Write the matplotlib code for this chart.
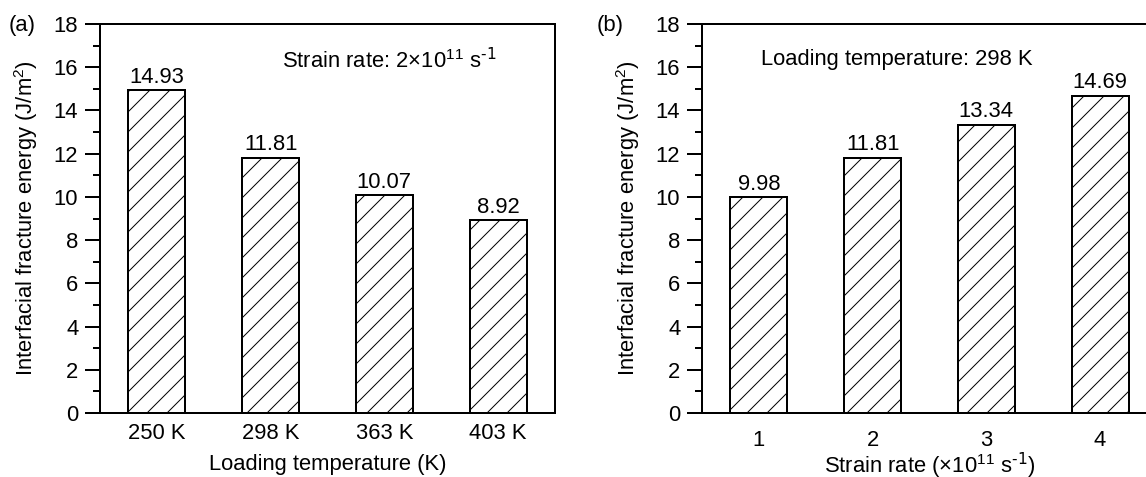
import matplotlib
matplotlib.use('Agg')
import matplotlib.pyplot as plt
from matplotlib.ticker import MultipleLocator

# panel (a): loading temperature series
temp_labels = ['250 K', '298 K', '363 K', '403 K']
energy_temp = [14.93, 11.81, 10.07, 8.92]

# panel (b): strain rate series
rate_labels = ['1', '2', '3', '4']
energy_rate = [9.98, 11.81, 13.34, 14.69]

DPI = 120
FS = 13.2

plt.rcParams['font.family'] = ['Liberation Sans', 'DejaVu Sans']
plt.rcParams['mathtext.default'] = 'regular'
plt.rcParams['hatch.linewidth'] = 0.6
plt.rcParams['axes.linewidth'] = 1.2

fig = plt.figure(figsize=(1146 / DPI, 477 / DPI), dpi=DPI)
ax_a = fig.add_axes([100 / 1146, 64 / 477, 455 / 1146, 389 / 477])
ax_b = fig.add_axes([702 / 1146, 64 / 477, 455 / 1146, 389 / 477])


def draw_panel(ax, labels, values, xlabel, note, tick_pad, label_pad):
    x = range(1, len(values) + 1)
    bars = ax.bar(x, values, width=0.5, color='white', edgecolor='black',
                  linewidth=1.2, hatch='//')
    ax.bar_label(bars, fmt='%.2f', padding=1.5, fontsize=FS)
    ax.set_xlim(0.5, len(values) + 0.5)
    ax.set_ylim(0, 18)
    ax.set_xticks(list(x))
    ax.set_xticklabels(labels)
    ax.yaxis.set_major_locator(MultipleLocator(2))
    ax.yaxis.set_minor_locator(MultipleLocator(1))
    ax.tick_params(axis='x', length=0, pad=tick_pad, labelsize=FS)
    ax.tick_params(axis='y', which='major', direction='out', length=9,
                   width=1.2, pad=4, labelsize=FS)
    ax.tick_params(axis='y', which='minor', direction='out', length=4.2,
                   width=1.2)
    ax.set_xlabel(xlabel, fontsize=FS, labelpad=label_pad)
    ax.set_ylabel(r'Interfacial fracture energy (J/m$^{2}$)', fontsize=FS,
                  labelpad=8)
    ax.text(note[0], note[1], note[2], transform=ax.transAxes, fontsize=FS,
            va='center', ha='left')


draw_panel(ax_a, temp_labels, energy_temp, 'Loading temperature (K)',
           (0.4, 0.905, r'Strain rate: 2×10$^{11}$ s$^{\text{-1}}$'), 6, 6)
draw_panel(ax_b, rate_labels, energy_rate,
           r'Strain rate (×10$^{11}$ s$^{\text{-1}}$)',
           (0.13, 0.91, 'Loading temperature: 298 K'), 10.5, -0.5)

fig.text(9 / 1146, 1 - 25 / 477, '(a)', fontsize=FS, va='center', ha='left')
fig.text(597 / 1146, 1 - 25 / 477, '(b)', fontsize=FS, va='center', ha='left')

fig.savefig('out.png', dpi=DPI)
